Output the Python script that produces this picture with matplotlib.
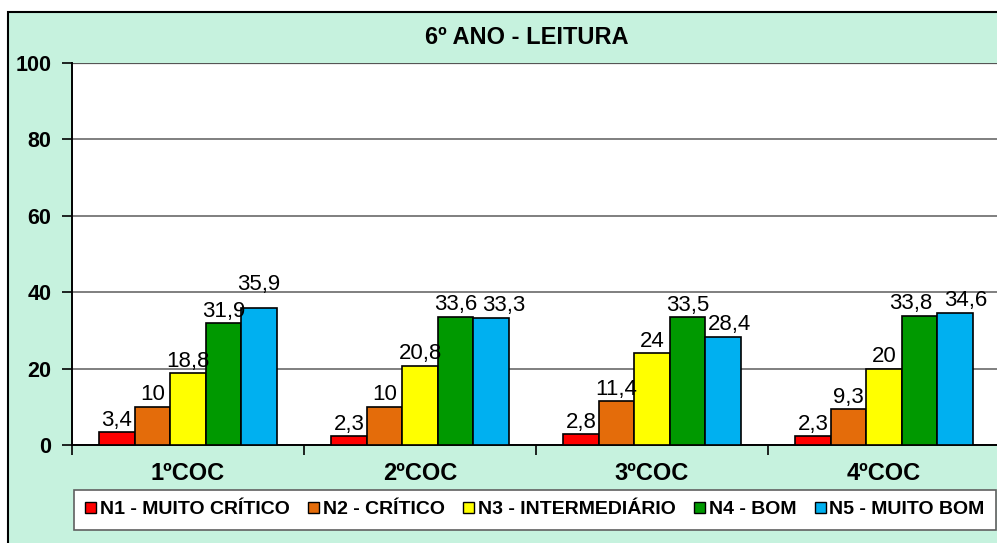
import numpy as np
import matplotlib.pyplot as plt
from matplotlib.patches import Rectangle, Patch

plt.rcParams['font.family'] = ['Liberation Sans', 'DejaVu Sans']

categorias = ['1ºCOC', '2ºCOC', '3ºCOC', '4ºCOC']
niveis = ['N1 - MUITO CRÍTICO', 'N2 - CRÍTICO', 'N3 - INTERMEDIÁRIO',
          'N4 - BOM', 'N5 - MUITO BOM']
n1 = [3.4, 2.3, 2.8, 2.3]
n2 = [10, 10, 11.4, 9.3]
n3 = [18.8, 20.8, 24, 20]
n4 = [31.9, 33.6, 33.5, 33.8]
n5 = [35.9, 33.3, 28.4, 34.6]
cores = ['#FF0000', '#E46C0A', '#FFFF00', '#009900', '#00B0F0']

# deslocamento (pontos) de alguns rótulos para não se sobreporem
ajuste_rotulo = {(4, 0): (0, 8), (4, 1): (9, 0), (4, 2): (5, 0),
                 (3, 3): (-6, 0), (4, 3): (8, 0)}

fundo = '#C6F2DE'

fig = plt.figure(figsize=(9.97, 5.43), dpi=100)
fig.patch.set_facecolor('white')
# moldura verde com borda preta (topo e esquerda)
fig.patches.append(Rectangle((8 / 997, -0.1), 1.2, 1 - 12 / 543 + 0.1,
                             transform=fig.transFigure, facecolor=fundo,
                             edgecolor='black', linewidth=1.5, zorder=-5))

ax = fig.add_axes([72 / 997, 1 - 445 / 543, 928 / 997, 382 / 543])
ax.set_zorder(2)
ax.set_facecolor('white')

x = np.arange(len(categorias))
largura = 0.153
series = [n1, n2, n3, n4, n5]
for i, (vals, cor, nome) in enumerate(zip(series, cores, niveis)):
    pos = x + (i - 2) * largura
    barras = ax.bar(pos, vals, largura, color=cor, edgecolor='black',
                    linewidth=1.2, label=nome, zorder=3)
    for j, (b, v) in enumerate(zip(barras, vals)):
        txt = f'{v:g}'.replace('.', ',')
        dx, dy = ajuste_rotulo.get((i, j), (0, 0))
        ax.annotate(txt, (b.get_x() + b.get_width() / 2, v),
                    xytext=(dx, 1 + dy), textcoords='offset points',
                    ha='center', va='bottom', fontsize=16, zorder=4)

ax.set_ylim(0, 100)
ax.set_xlim(-0.5, 3.5)
ax.set_yticks(range(0, 101, 20))
ax.set_yticklabels([str(v) for v in range(0, 101, 20)],
                   fontsize=15.5, fontweight='bold')
ax.yaxis.grid(True, color='#7F7F7F', linewidth=1.4, zorder=1)
ax.tick_params(axis='y', length=7, width=1.2, pad=8)

ax.set_xticks(x)
ax.set_xticklabels(categorias, fontsize=17, fontweight='bold')
ax.set_xticks(np.arange(-0.5, 4, 1), minor=True)
ax.tick_params(axis='x', which='major', length=0, pad=12)
ax.tick_params(axis='x', which='minor', length=7, width=1.2)

for lado in ['top', 'right']:
    ax.spines[lado].set_visible(False)
ax.spines['left'].set_linewidth(1.4)
ax.spines['bottom'].set_linewidth(1.4)
ax.axhline(100, color='#555555', linewidth=1.6, zorder=2)

fig.text(527 / 997, 1 - 38 / 543, '6º ANO - LEITURA', ha='center',
         va='center', fontsize=17, fontweight='bold')

alcas = [Patch(facecolor=c, edgecolor='black', linewidth=1) for c in cores]
leg = fig.legend(alcas, niveis, loc='center',
                 bbox_to_anchor=(535 / 997, 1 - 510 / 543),
                 ncol=5, frameon=True, fancybox=False, framealpha=1,
                 handlelength=0.55, handleheight=0.55, handletextpad=0.2,
                 columnspacing=0.95, borderpad=0.6,
                 prop={'size': 14, 'weight': 'bold'})
leg.get_frame().set_edgecolor('#606060')
leg.get_frame().set_facecolor('white')
leg.get_frame().set_linewidth(1.2)

fig.savefig('out.png', dpi=100)
